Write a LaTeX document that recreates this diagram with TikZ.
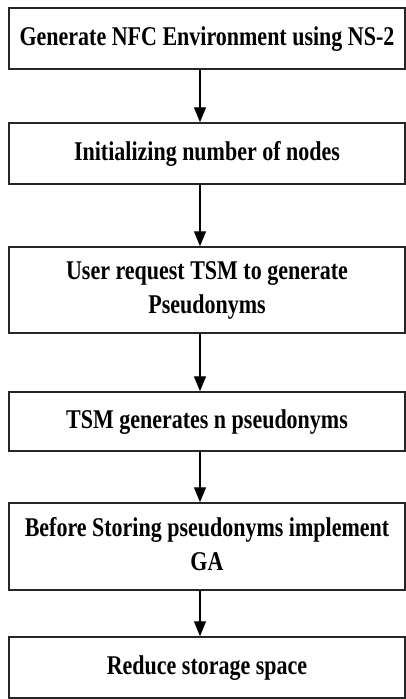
\documentclass[tikz,border=0pt]{standalone}
\usepackage{fontspec}
\usepackage{graphicx}
\setmainfont{Liberation Serif}
\usetikzlibrary{arrows.meta}
\newcommand{\boxtxt}[1]{\scalebox{1}[1.23]{\begin{tabular}{@{}c@{}}#1\end{tabular}}}
\begin{document}
\begin{tikzpicture}[x=1pt,y=-1pt,
  stepbox/.style={draw=black!85, line width=1.5pt, minimum width=396pt, inner sep=0pt,
    font=\fontsize{22}{27.6}\selectfont\bfseries, align=center},
  arr/.style={line width=1.4pt, -{Triangle[width=12pt,length=15pt]}}]
\useasboundingbox (0,0) rectangle (406,699);
\coordinate (ax) at (200,0);
\node[stepbox, minimum height=61pt] (b1) at (207,38.5) {\boxtxt{Generate NFC Environment using NS-2}};
\node[stepbox, minimum height=61pt] (b2) at (207,153.5) {\boxtxt{Initializing number of nodes}};
\node[stepbox, minimum height=86pt] (b3) at (207,290) {\boxtxt{User request TSM to generate\\Pseudonyms}};
\node[stepbox, minimum height=59pt] (b4) at (207,421.5) {\boxtxt{TSM generates n pseudonyms}};
\node[stepbox, minimum height=87pt] (b5) at (207,546.5) {\boxtxt{Before Storing pseudonyms implement\\GA}};
\node[stepbox, minimum height=61pt] (b6) at (207,667.5) {\boxtxt{Reduce storage space}};
\draw[arr] (b1.south -| ax) -- (b2.north -| ax);
\draw[arr] (b2.south -| ax) -- (b3.north -| ax);
\draw[arr] (b3.south -| ax) -- (b4.north -| ax);
\draw[arr] (b4.south -| ax) -- (b5.north -| ax);
\draw[arr] (b5.south -| ax) -- (b6.north -| ax);
\end{tikzpicture}
\end{document}
